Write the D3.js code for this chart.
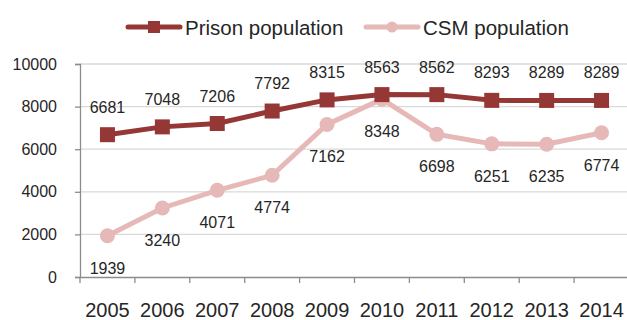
<!DOCTYPE html>
<html>
<head>
<meta charset="utf-8">
<script src="https://cdn.jsdelivr.net/npm/d3@7"></script>
<style>
  html, body { margin: 0; padding: 0; background: #fff; }
  svg { display: block; font-family: "Liberation Sans", Arial, sans-serif; }
</style>
</head>
<body>
<svg id="chart" width="627" height="320"></svg>
<script>
const years = ["2005","2006","2007","2008","2009","2010","2011","2012","2013","2014"];
const prison = [6681, 7048, 7206, 7792, 8315, 8563, 8562, 8293, 8289, 8289];
const csm = [1939, 3240, 4071, 4774, 7162, 8348, 6698, 6251, 6235, 6774];
const yTicks = [0, 2000, 4000, 6000, 8000, 10000];
const seriesNames = ["Prison population", "CSM population"];

const prisonColor = "#953735";
const csmColor = "#e6b9b8";
const textColor = "#262626";

(function () {
const svg = d3.select("#chart");
const plotLeft = 80, plotRight = 629, plotTop = 64, plotBottom = 277;

const x = d3.scaleBand().domain(years).range([plotLeft, plotRight]);
const y = d3.scaleLinear().domain([0, 10000]).range([plotBottom, plotTop]);

// horizontal gridlines
svg.append("g").selectAll("line").data(yTicks.filter(d => d > 0)).join("line")
  .attr("x1", plotLeft).attr("x2", 627)
  .attr("y1", d => y(d)).attr("y2", d => y(d))
  .attr("stroke", "#d9d9d9").attr("stroke-width", 1.3);

// y axis
const yAxis = svg.append("g").attr("transform", `translate(${plotLeft},0)`)
  .call(d3.axisLeft(y).tickValues(yTicks).tickFormat(d3.format("d")).tickSize(5).tickPadding(18));
yAxis.select(".domain").attr("stroke", "#8c8c8c").attr("stroke-width", 1.3);
yAxis.selectAll(".tick line").attr("stroke", "#8c8c8c").attr("stroke-width", 1.3);
yAxis.selectAll(".tick text").attr("fill", textColor).style("font-size", "16px");

// x axis
const xAxis = svg.append("g").attr("transform", `translate(0,${plotBottom})`)
  .call(d3.axisBottom(x).tickSize(0).tickPadding(0));
xAxis.select(".domain").attr("stroke", "#8c8c8c").attr("stroke-width", 1.3);
xAxis.selectAll(".tick text").attr("fill", textColor).style("font-size", "20px")
  .attr("dy", null).attr("y", 40);
// band boundary tick marks
svg.append("g").selectAll("line").data(years).join("line")
  .attr("x1", d => x(d)).attr("x2", d => x(d))
  .attr("y1", plotBottom).attr("y2", plotBottom + 6)
  .attr("stroke", "#8c8c8c").attr("stroke-width", 1.3);

const cx = d => x(d) + x.bandwidth() / 2;
const line = d3.line().x(d => cx(d.year)).y(d => y(d.value));

const csmData = years.map((year, i) => ({ year, value: csm[i] }));
const prisonData = years.map((year, i) => ({ year, value: prison[i] }));

// CSM series
svg.append("path").datum(csmData).attr("d", line)
  .attr("fill", "none").attr("stroke", csmColor).attr("stroke-width", 5);
svg.append("g").selectAll("circle").data(csmData).join("circle")
  .attr("cx", d => cx(d.year)).attr("cy", d => y(d.value)).attr("r", 7.5)
  .attr("fill", csmColor);

// Prison series
svg.append("path").datum(prisonData).attr("d", line)
  .attr("fill", "none").attr("stroke", prisonColor).attr("stroke-width", 5);
svg.append("g").selectAll("rect").data(prisonData).join("rect")
  .attr("x", d => cx(d.year) - 7.5).attr("y", d => y(d.value) - 7.5)
  .attr("width", 15).attr("height", 15).attr("fill", prisonColor);

// value labels
svg.append("g").selectAll("text").data(prisonData).join("text")
  .attr("x", d => cx(d.year)).attr("y", d => y(d.value) - 22)
  .attr("text-anchor", "middle").attr("fill", textColor).style("font-size", "16px")
  .text(d => d.value);
svg.append("g").selectAll("text").data(csmData).join("text")
  .attr("x", d => cx(d.year)).attr("y", d => y(d.value) + 38)
  .attr("text-anchor", "middle").attr("fill", textColor).style("font-size", "16px")
  .text(d => d.value);

// legend
const legend = svg.append("g");
const legendItems = [
  { name: seriesNames[0], color: prisonColor, x0: 128, shape: "rect" },
  { name: seriesNames[1], color: csmColor, x0: 366, shape: "circle" }
];
legendItems.forEach(item => {
  const g = legend.append("g");
  g.append("line").attr("x1", item.x0).attr("x2", item.x0 + 52)
    .attr("y1", 27).attr("y2", 27).attr("stroke", item.color).attr("stroke-width", 5)
    .attr("stroke-linecap", "round");
  if (item.shape === "rect") {
    g.append("rect").attr("x", item.x0 + 26 - 6).attr("y", 21).attr("width", 12).attr("height", 12)
      .attr("fill", item.color);
  } else {
    g.append("circle").attr("cx", item.x0 + 26).attr("cy", 27).attr("r", 5.5).attr("fill", item.color);
  }
  g.append("text").attr("x", item.x0 + 57).attr("y", 35)
    .attr("fill", textColor).style("font-size", "20.5px")
    .text(item.name);
});
})();
</script>
</body>
</html>
